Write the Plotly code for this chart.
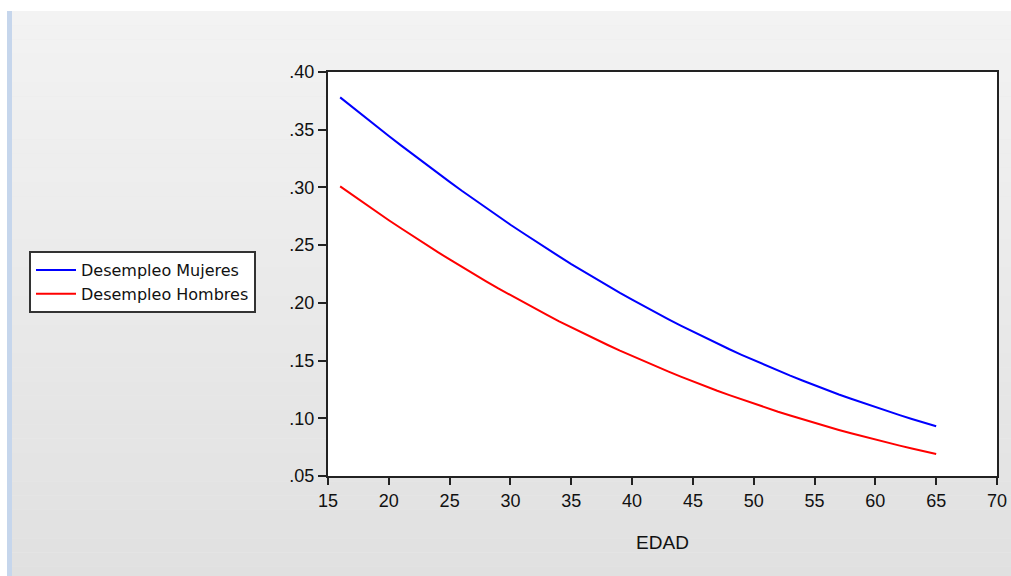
import plotly.graph_objects as go

edad = list(range(16, 66))
mujeres = [0.3780, 0.3695, 0.3611, 0.3528, 0.3445, 0.3364, 0.3283, 0.3204, 0.3125, 0.3048,
           0.2971, 0.2896, 0.2822, 0.2749, 0.2677, 0.2607, 0.2537, 0.2469, 0.2402, 0.2336,
           0.2272, 0.2209, 0.2147, 0.2087, 0.2028, 0.1969, 0.1913, 0.1857, 0.1803, 0.1750,
           0.1698, 0.1647, 0.1598, 0.1550, 0.1503, 0.1457, 0.1412, 0.1369, 0.1327, 0.1285,
           0.1245, 0.1206, 0.1169, 0.1132, 0.1096, 0.1061, 0.1027, 0.0994, 0.0962, 0.0931]
hombres = [0.3009, 0.2934, 0.2860, 0.2788, 0.2716, 0.2646, 0.2576, 0.2508, 0.2441, 0.2376,
           0.2311, 0.2248, 0.2186, 0.2125, 0.2066, 0.2008, 0.1951, 0.1895, 0.1840, 0.1787,
           0.1735, 0.1684, 0.1635, 0.1586, 0.1539, 0.1493, 0.1448, 0.1404, 0.1361, 0.1319,
           0.1279, 0.1239, 0.1201, 0.1164, 0.1127, 0.1092, 0.1057, 0.1024, 0.0991, 0.0960,
           0.0929, 0.0899, 0.0870, 0.0842, 0.0815, 0.0788, 0.0763, 0.0738, 0.0714, 0.0690]

x_ticks = [15, 20, 25, 30, 35, 40, 45, 50, 55, 60, 65, 70]
y_ticks = [0.05, 0.10, 0.15, 0.20, 0.25, 0.30, 0.35, 0.40]
y_ticktext = [".05", ".10", ".15", ".20", ".25", ".30", ".35", ".40"]

W, H = 1011, 576
L, T, B = 328, 72, 476
R_MARGIN = 14

PW = W - L - R_MARGIN

def px_x(p):
    return (p - L) / PW

def px_y(p):
    return (B - p) / (B - T)

fig = go.Figure()
fig.add_trace(go.Scatter(x=edad, y=mujeres, mode="lines", name="Desempleo Mujeres",
                         line=dict(color="#0000ff", width=2)))
fig.add_trace(go.Scatter(x=edad, y=hombres, mode="lines", name="Desempleo Hombres",
                         line=dict(color="#ff0000", width=2)))

shapes = []
shapes.append(dict(type="rect", xref="paper", yref="paper", x0=px_x(-5), x1=px_x(W + 20),
                   y0=px_y(11), y1=px_y(-5), fillcolor="#ffffff", line=dict(width=0), layer="below"))
n = 40
top, bot = 11, H + 5
for i in range(n):
    y0p = top + (bot - top) * i / n
    y1p = top + (bot - top) * (i + 1) / n
    c = round(243 - (243 - 224) * (i + 0.5) / n)
    shapes.append(dict(type="rect", xref="paper", yref="paper", x0=px_x(12), x1=px_x(W + 20),
                       y0=px_y(y1p), y1=px_y(y0p), fillcolor=f"rgb({c},{c},{c})",
                       line=dict(width=0), layer="below"))
shapes.append(dict(type="rect", xref="paper", yref="paper", x0=px_x(-5), x1=px_x(7),
                   y0=px_y(H + 5), y1=px_y(11), fillcolor="#ffffff", line=dict(width=0), layer="below"))
shapes.append(dict(type="rect", xref="paper", yref="paper", x0=px_x(7), x1=px_x(12),
                   y0=px_y(H + 5), y1=px_y(11), fillcolor="#c6d6ec", line=dict(width=0), layer="below"))
shapes.append(dict(type="rect", xref="paper", yref="paper", x0=0, x1=1, y0=0, y1=1,
                   fillcolor="#ffffff", line=dict(width=0), layer="below"))

font_family = "Liberation Sans, Arial, sans-serif"

fig.update_layout(
    template="none",
    width=W, height=H,
    margin=dict(l=L, r=R_MARGIN, t=T, b=H - B, pad=0, autoexpand=False),
    paper_bgcolor="#ebebeb",
    plot_bgcolor="#ffffff",
    shapes=shapes,
    font=dict(family=font_family, size=18, color="#111111"),
    showlegend=True,
    legend=dict(x=px_x(29), y=px_y(251), xanchor="left", yanchor="top",
                bgcolor="#ffffff", bordercolor="#333333", borderwidth=2,
                font=dict(family="DejaVu Sans, sans-serif", size=16, color="#111111"),
                itemwidth=40, tracegroupgap=0, entrywidth=183, entrywidthmode="pixels"),
    xaxis=dict(range=[15, 70], tickvals=x_ticks, ticks="outside", ticklen=7, tickwidth=2,
               tickcolor="#222222", showline=True, linecolor="#222222", linewidth=2,
               mirror=True, showgrid=False, zeroline=False, automargin=False,
               tickfont=dict(size=18, color="#111111"),
               title=dict(text="EDAD", font=dict(size=19, color="#111111"), standoff=26)),
    yaxis=dict(range=[0.05, 0.40], tickvals=y_ticks, ticktext=y_ticktext, ticks="outside",
               ticklen=8, tickwidth=2, tickcolor="#222222", showline=True, linecolor="#222222",
               linewidth=2, mirror=True, showgrid=False, zeroline=False, automargin=False,
               tickfont=dict(size=18, color="#111111")),
)

fig.write_html("out.html")
